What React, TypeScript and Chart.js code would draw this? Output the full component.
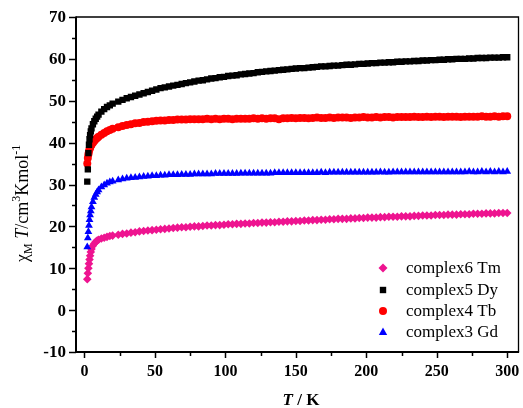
import React, { useEffect, useRef } from "react";
import { Chart, registerables } from "chart.js";

Chart.register(...registerables);

// Temperature (K)
const T = [
  2, 2.4, 2.8, 3.2, 3.6, 4, 4.5, 5, 6, 7, 8, 9, 10, 12, 14, 16, 18, 20,
  24, 27, 30, 33, 36, 39, 42, 45, 48, 51,
  54, 57, 60, 63, 66, 69, 72, 75, 78, 81,
  84, 87, 90, 93, 96, 99, 102, 105, 108, 111,
  114, 117, 120, 123, 126, 129, 132, 135, 138, 141,
  144, 147, 150, 153, 156, 159, 162, 165, 168, 171,
  174, 177, 180, 183, 186, 189, 192, 195, 198, 201,
  204, 207, 210, 213, 216, 219, 222, 225, 228, 231,
  234, 237, 240, 243, 246, 249, 252, 255, 258, 261,
  264, 267, 270, 273, 276, 279, 282, 285, 288, 291,
  294, 297, 300,
];

const DY = [
  30.7, 33.6, 37.5, 39.5, 40.8, 41.8, 42.7, 43.4, 44.4, 45.1, 45.7, 46.2, 46.7, 47.4, 48.0, 48.5, 48.9, 49.3,
  49.8, 50.2, 50.6, 50.9, 51.2, 51.5, 51.8, 52.1, 52.4, 52.7,
  53.0, 53.2, 53.4, 53.6, 53.8, 54.0, 54.2, 54.4, 54.6, 54.8,
  54.9, 55.1, 55.3, 55.4, 55.6, 55.7, 55.9, 56.0, 56.1, 56.3,
  56.4, 56.5, 56.6, 56.8, 56.9, 57.0, 57.1, 57.2, 57.3, 57.4,
  57.5, 57.6, 57.7, 57.8, 57.8, 57.9, 58.0, 58.1, 58.2, 58.2,
  58.3, 58.4, 58.4, 58.5, 58.6, 58.6, 58.7, 58.8, 58.8, 58.9,
  59.0, 59.0, 59.1, 59.1, 59.2, 59.2, 59.3, 59.3, 59.4, 59.4,
  59.5, 59.5, 59.6, 59.6, 59.7, 59.7, 59.8, 59.8, 59.9, 59.9,
  60.0, 60.0, 60.0, 60.1, 60.1, 60.2, 60.2, 60.2, 60.3, 60.3,
  60.3, 60.4, 60.4,
];

const TB = [
  35.0, 36.3, 37.2, 37.9, 38.4, 38.8, 39.2, 39.5, 40.0, 40.4, 40.8, 41.1, 41.4, 41.9, 42.3, 42.7, 43.0, 43.3,
  43.7, 44.0, 44.2, 44.4, 44.6, 44.7, 44.9, 45.0, 45.1, 45.2,
  45.3, 45.3, 45.4, 45.4, 45.5, 45.5, 45.5, 45.6, 45.6, 45.6,
  45.6, 45.7, 45.6, 45.7, 45.6, 45.7, 45.7, 45.6, 45.7, 45.7,
  45.7, 45.7, 45.8, 45.7, 45.8, 45.7, 45.8, 45.8, 45.6, 45.8,
  45.8, 45.9, 45.8, 45.9, 45.9, 45.8, 45.9, 46.0, 45.9, 45.9,
  46.0, 45.9, 46.0, 46.0, 46.0, 45.9, 46.0, 46.0, 46.1, 46.0,
  46.0, 46.1, 46.0, 46.1, 46.1, 46.0, 46.1, 46.1, 46.1, 46.1,
  46.2, 46.1, 46.1, 46.2, 46.1, 46.2, 46.2, 46.1, 46.2, 46.2,
  46.2, 46.1, 46.2, 46.2, 46.2, 46.2, 46.3, 46.2, 46.2, 46.3,
  46.2, 46.3, 46.3,
];

const GD = [
  15.1, 17.2, 18.7, 20.2, 21.6, 22.7, 23.7, 24.6, 25.9, 26.9, 27.6, 28.2, 28.7, 29.4, 29.9, 30.3, 30.6, 30.8,
  31.1, 31.3, 31.5, 31.6, 31.7, 31.8, 31.9, 32.0, 32.1, 32.1,
  32.2, 32.2, 32.3, 32.3, 32.3, 32.4, 32.4, 32.4, 32.5, 32.5,
  32.5, 32.5, 32.5, 32.6, 32.6, 32.6, 32.6, 32.6, 32.6, 32.7,
  32.7, 32.7, 32.7, 32.7, 32.7, 32.7, 32.7, 32.8, 32.8, 32.8,
  32.8, 32.8, 32.8, 32.8, 32.8, 32.8, 32.8, 32.8, 32.9, 32.8,
  32.9, 32.9, 32.9, 32.9, 32.9, 32.9, 32.9, 32.9, 32.9, 32.9,
  32.9, 32.9, 33.0, 32.9, 32.9, 33.0, 33.0, 33.0, 33.0, 33.0,
  33.0, 33.0, 33.0, 33.0, 33.0, 33.0, 33.0, 33.0, 33.0, 33.0,
  33.0, 33.0, 33.0, 33.1, 33.0, 33.0, 33.1, 33.0, 33.1, 33.0,
  33.1, 33.0, 33.1,
];

const TM = [
  7.4, 8.8, 10.0, 11.1, 12.1, 13.0, 13.9, 14.6, 15.4, 15.9, 16.3, 16.6, 16.8, 17.1, 17.3, 17.5, 17.7, 17.8,
  18.0, 18.2, 18.3, 18.5, 18.6, 18.8, 18.9, 19.0, 19.1, 19.2,
  19.3, 19.4, 19.5, 19.6, 19.7, 19.8, 19.8, 19.9, 20.0, 20.0,
  20.1, 20.2, 20.2, 20.3, 20.3, 20.4, 20.5, 20.5, 20.6, 20.6,
  20.7, 20.7, 20.8, 20.8, 20.9, 20.9, 21.0, 21.0, 21.1, 21.1,
  21.2, 21.2, 21.3, 21.3, 21.4, 21.4, 21.5, 21.5, 21.6, 21.6,
  21.7, 21.7, 21.8, 21.8, 21.8, 21.9, 21.9, 22.0, 22.0, 22.1,
  22.1, 22.1, 22.2, 22.2, 22.3, 22.3, 22.3, 22.4, 22.4, 22.4,
  22.5, 22.5, 22.6, 22.6, 22.6, 22.7, 22.7, 22.7, 22.8, 22.8,
  22.8, 22.9, 22.9, 22.9, 23.0, 23.0, 23.0, 23.1, 23.1, 23.1,
  23.2, 23.2, 23.2,
];

const X_TICKS = [0, 25, 50, 75, 100, 125, 150, 175, 200, 225, 250, 275, 300];
const X_LABELED = [0, 50, 100, 150, 200, 250, 300];
const Y_TICKS = [-10, -5, 0, 5, 10, 15, 20, 25, 30, 35, 40, 45, 50, 55, 60, 65, 70];
const Y_LABELED = [-10, 0, 10, 20, 30, 40, 50, 60, 70];

const LEGEND_LABELS = ["complex6 Tm", "complex5 Dy", "complex4 Tb", "complex3 Gd"];
const COLORS = { tm: "#ee1490", dy: "#000000", tb: "#ff0000", gd: "#0000ff" };

const SERIF = "'Liberation Serif', 'Times New Roman', serif";

function drawMarker(ctx: CanvasRenderingContext2D, kind: string, x: number, y: number) {
  ctx.beginPath();
  if (kind === "diamond") {
    ctx.moveTo(x - 4.5, y);
    ctx.lineTo(x, y - 4.5);
    ctx.lineTo(x + 4.5, y);
    ctx.lineTo(x, y + 4.5);
    ctx.closePath();
  } else if (kind === "square") {
    ctx.rect(x - 3.2, y - 3.2, 6.4, 6.4);
  } else if (kind === "circle") {
    ctx.arc(x, y, 4, 0, Math.PI * 2);
  } else {
    ctx.moveTo(x, y - 4.5);
    ctx.lineTo(x + 4.2, y + 3);
    ctx.lineTo(x - 4.2, y + 3);
    ctx.closePath();
  }
  ctx.fill();
}

const decor = {
  id: "decor",
  afterDraw(chart: any) {
    const { ctx, chartArea: a, scales } = chart;
    const xs = scales.x;
    const ys = scales.y;
    ctx.save();
    ctx.strokeStyle = "#000";
    ctx.fillStyle = "#000";
    // frame
    ctx.lineWidth = 1.3;
    ctx.beginPath();
    ctx.moveTo(a.left, a.top);
    ctx.lineTo(a.right, a.top);
    ctx.lineTo(a.right, a.bottom);
    ctx.stroke();
    ctx.lineWidth = 2;
    ctx.beginPath();
    ctx.moveTo(a.left, a.top - 0.6);
    ctx.lineTo(a.left, a.bottom);
    ctx.lineTo(a.right + 0.6, a.bottom);
    ctx.stroke();
    // ticks
    ctx.lineWidth = 1.5;
    X_TICKS.forEach((v) => {
      const px = Math.round(xs.getPixelForValue(v)) + 0.5;
      const len = X_LABELED.includes(v) ? 6 : 4;
      ctx.beginPath();
      ctx.moveTo(px, a.bottom);
      ctx.lineTo(px, a.bottom + len);
      ctx.stroke();
    });
    Y_TICKS.forEach((v) => {
      const py = Math.round(ys.getPixelForValue(v)) + 0.5;
      const len = Y_LABELED.includes(v) ? 7 : 4;
      ctx.beginPath();
      ctx.moveTo(a.left - len, py);
      ctx.lineTo(a.left, py);
      ctx.stroke();
    });

    // tick labels
    ctx.font = `bold 16px ${SERIF}`;
    ctx.textAlign = "center";
    ctx.textBaseline = "top";
    X_LABELED.forEach((v) => {
      ctx.fillText(String(v), xs.getPixelForValue(v), a.bottom + 12);
    });
    ctx.font = `bold 17px ${SERIF}`;
    ctx.textAlign = "right";
    ctx.textBaseline = "middle";
    Y_LABELED.forEach((v) => {
      ctx.fillText(String(v), a.left - 10, ys.getPixelForValue(v) + 1);
    });

    // y title
    ctx.save();
    ctx.translate(28, 262);
    ctx.rotate(-Math.PI / 2);
    ctx.textAlign = "left";
    ctx.textBaseline = "alphabetic";
    let cx = 0;
    const run = (t: string, font: string, dy: number) => {
      ctx.font = font;
      ctx.fillText(t, cx, dy);
      cx += ctx.measureText(t).width;
    };
    run("χ", `18px ${SERIF}`, 0);
    run("M", `12px ${SERIF}`, 4);
    run(" ", `18px ${SERIF}`, 0);
    run("T", `italic 18px ${SERIF}`, 0);
    run("/cm", `18px ${SERIF}`, 0);
    run("3", `12px ${SERIF}`, -8);
    run("Kmol", `18px ${SERIF}`, 0);
    run("-1", `12px ${SERIF}`, -8);
    ctx.restore();

    // x title
    ctx.save();
    ctx.textAlign = "left";
    ctx.textBaseline = "alphabetic";
    ctx.font = `italic bold 17px ${SERIF}`;
    const w1 = ctx.measureText("T").width;
    ctx.font = `bold 17px ${SERIF}`;
    const w2 = ctx.measureText(" / K").width;
    const sx = 301 - (w1 + w2) / 2;
    ctx.font = `italic bold 17px ${SERIF}`;
    ctx.fillText("T", sx, 405);
    ctx.font = `bold 17px ${SERIF}`;
    ctx.fillText(" / K", sx + w1, 405);
    ctx.restore();

    // legend
    const kinds = ["diamond", "square", "circle", "triangle"];
    const cols = [COLORS.tm, COLORS.dy, COLORS.tb, COLORS.gd];
    const rowsY = [268, 290, 311, 332];
    ctx.textAlign = "left";
    ctx.textBaseline = "middle";
    LEGEND_LABELS.forEach((lab, i) => {
      ctx.fillStyle = cols[i];
      drawMarker(ctx, kinds[i], 383, rowsY[i]);
      ctx.fillStyle = "#000";
      ctx.font = `17px ${SERIF}`;
      ctx.fillText(lab, 406, rowsY[i] + 1);
    });
    ctx.restore();
  },
};

const toPts = (ys: number[]) => T.map((t, i) => ({ x: t, y: ys[i] }));

export default function App() {
  const ref = useRef<HTMLCanvasElement | null>(null);
  useEffect(() => {
    if (!ref.current) return;
    const chart = new Chart(ref.current, {
      type: "scatter",
      data: {
        datasets: [
          {
            label: LEGEND_LABELS[1],
            data: toPts(DY),
            pointStyle: "rect",
            pointRadius: 4.5,
            pointBackgroundColor: COLORS.dy,
            pointBorderWidth: 0,
            showLine: false,
          },
          {
            label: LEGEND_LABELS[2],
            data: toPts(TB),
            pointStyle: "circle",
            pointRadius: 4,
            pointBackgroundColor: COLORS.tb,
            pointBorderWidth: 0,
            showLine: false,
          },
          {
            label: LEGEND_LABELS[3],
            data: toPts(GD),
            pointStyle: "triangle",
            pointRadius: 4.5,
            pointBackgroundColor: COLORS.gd,
            pointBorderWidth: 0,
            showLine: false,
          },
          {
            label: LEGEND_LABELS[0],
            data: toPts(TM),
            pointStyle: "rectRot",
            pointRadius: 4.3,
            pointBackgroundColor: COLORS.tm,
            pointBorderWidth: 0,
            showLine: false,
          },
        ],
      },
      options: {
        animation: false,
        responsive: false,
        events: [],
        layout: { padding: { left: 0, top: 17, right: 2, bottom: 0 } },
        plugins: { legend: { display: false }, tooltip: { enabled: false } },
        scales: {
          x: {
            type: "linear",
            min: -6,
            max: 308,
            afterFit: (s: any) => {
              s.height = 56;
            },
            grid: { display: false },
            border: { display: false },
            ticks: { display: false },
          },
          y: {
            type: "linear",
            min: -10,
            max: 70,
            afterFit: (s: any) => {
              s.width = 76;
            },
            grid: { display: false },
            border: { display: false },
            ticks: { display: false },
          },
        },
      },
      plugins: [decor],
    } as any);
    return () => chart.destroy();
  }, []);
  return (
    <div style={{ position: "absolute", left: 0, top: 0, width: 523, height: 408, background: "#fff" }}>
      <canvas ref={ref} width={523} height={408} style={{ width: 523, height: 408, display: "block" }} />
    </div>
  );
}
